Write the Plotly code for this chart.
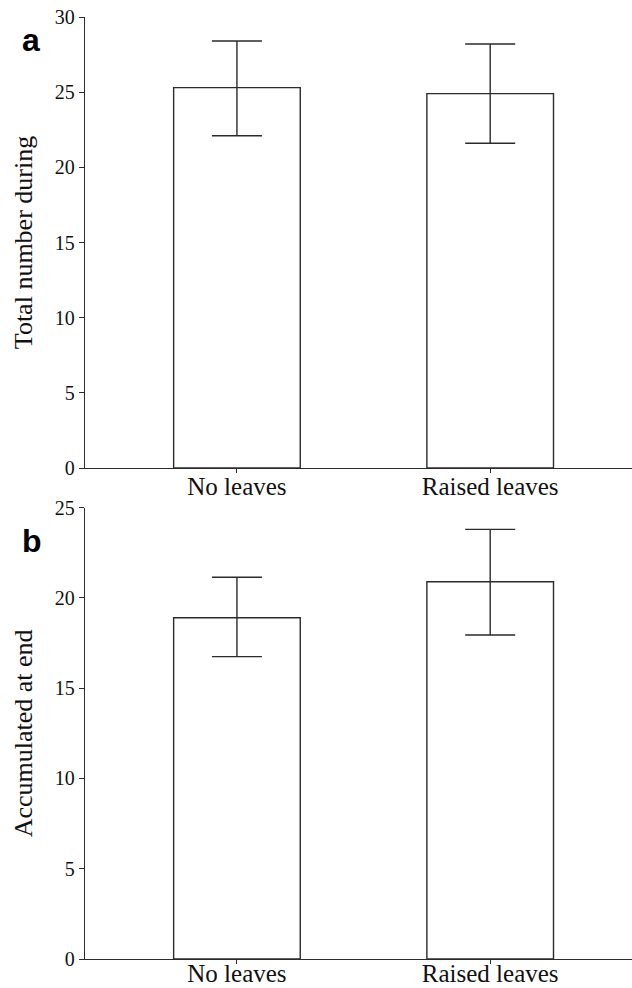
import plotly.graph_objects as go

categories = ["No leaves", "Raised leaves"]

# Panel a
a_means = [25.3, 24.9]
a_upper = [28.4, 28.2]
a_lower = [22.1, 21.6]
a_title = "Total number during"
a_ticks = [0, 5, 10, 15, 20, 25, 30]

# Panel b
b_means = [18.9, 20.9]
b_upper = [21.15, 23.8]
b_lower = [16.75, 17.95]
b_title = "Accumulated at end"
b_ticks = [0, 5, 10, 15, 20, 25]

LINE = "#2b2b2b"
SERIF = "Liberation Serif, Times New Roman, serif"


def bar(means, upper, lower, xa, ya):
    return go.Bar(
        x=categories, y=means, xaxis=xa, yaxis=ya, width=0.5,
        marker=dict(color="white", line=dict(color=LINE, width=1.4)),
        error_y=dict(type="data", symmetric=False,
                     array=[u - m for u, m in zip(upper, means)],
                     arrayminus=[m - l for m, l in zip(means, lower)],
                     color=LINE, thickness=1.4, width=25),
        showlegend=False,
    )


fig = go.Figure()
fig.add_trace(bar(a_means, a_upper, a_lower, "x", "y"))
fig.add_trace(bar(b_means, b_upper, b_lower, "x2", "y2"))

W, H = 632, 988
L = 85
top_m, bot_m = 17, 29
plot_h = H - top_m - bot_m
plot_w = W - L


def fy(px):
    return (H - bot_m - px) / plot_h


def fx(px):
    return (px - L) / plot_w


xcommon = dict(type="category", range=[-0.6, 1.56], showline=True, linecolor=LINE,
               linewidth=1.4, ticks="outside", ticklen=4, tickcolor=LINE, tickwidth=1.2,
               tickfont=dict(family=SERIF, size=25, color="#111"),
               showgrid=False, zeroline=False, fixedrange=True, automargin=False)
ycommon = dict(showline=True, linecolor=LINE, linewidth=1.4, ticks="outside", ticklen=5,
               tickcolor=LINE, tickwidth=1.2, tickfont=dict(family=SERIF, size=20, color="#111"),
               showgrid=False, zeroline=False, automargin=False)

fig.update_layout(
    width=W, height=H,
    margin=dict(l=L, r=0, t=top_m, b=bot_m, autoexpand=False),
    plot_bgcolor="white", paper_bgcolor="white",
    xaxis=dict(domain=[0, 1], anchor="y", ticklabelstandoff=-8, **xcommon),
    yaxis=dict(domain=[fy(468), 1], anchor="x", range=[0, 30], tickvals=a_ticks,
               title=dict(text=a_title, font=dict(family=SERIF, size=26, color="#111"), standoff=14),
               **ycommon),
    xaxis2=dict(domain=[0, 1], anchor="y2", ticklabelstandoff=-12, **xcommon),
    yaxis2=dict(domain=[0, fy(507.7)], anchor="x2", range=[0, 25], tickvals=b_ticks,
                title=dict(text=b_title, font=dict(family=SERIF, size=26, color="#111"), standoff=14),
                **ycommon),
    annotations=[
        dict(text="<b>a</b>", x=fx(20), y=fy(40), xref="paper", yref="paper",
             xanchor="left", yanchor="middle", showarrow=False,
             font=dict(family="Liberation Sans, Arial, sans-serif", size=32, color="#000")),
        dict(text="<b>b</b>", x=fx(20), y=fy(541), xref="paper", yref="paper",
             xanchor="left", yanchor="middle", showarrow=False,
             font=dict(family="Liberation Sans, Arial, sans-serif", size=32, color="#000")),
    ],
)

fig.write_html("out.html")
